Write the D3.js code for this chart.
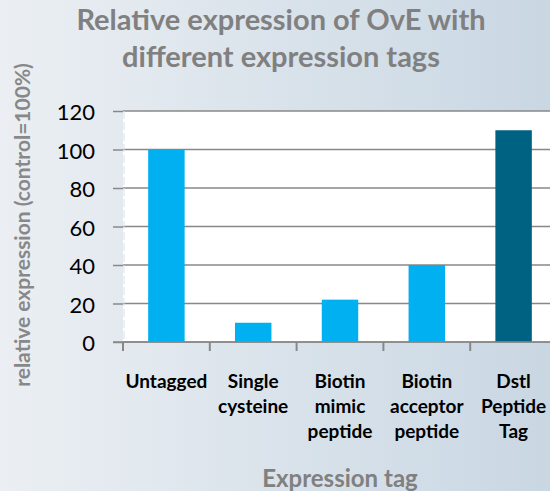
<!DOCTYPE html>
<html>
<head>
<meta charset="utf-8">
<script src="https://cdn.jsdelivr.net/npm/d3@7"></script>
<style>
  body { margin: 0; }
  svg { display: block; }
</style>
</head>
<body>
<div id="chart"></div>
<script>
// chart data
const categories = ['Untagged', 'Single cysteine', 'Biotin mimic peptide', 'Biotin acceptor peptide', 'Dstl Peptide Tag'];
const labelLines = [['Untagged'], ['Single', 'cysteine'], ['Biotin', 'mimic', 'peptide'], ['Biotin', 'acceptor', 'peptide'], ['Dstl', 'Peptide', 'Tag']];
const values = [100, 10, 22, 40, 110];
const yTicks = [0, 20, 40, 60, 80, 100, 120];
const barColors = ['#00b0f0', '#00b0f0', '#00b0f0', '#00b0f0', '#006283'];

const W = 550, H = 491;
const plot = { left: 123, right: 557, top: 111, bottom: 342 };
const font = 'Lato, "Open Sans", sans-serif';

const svg = d3.select('#chart').append('svg')
  .attr('width', W)
  .attr('height', H);

// background gradient
const grad = svg.append('defs').append('linearGradient')
  .attr('id', 'bg')
  .attr('x1', '0').attr('y1', '0').attr('x2', '1').attr('y2', '0');
grad.append('stop').attr('offset', '0').attr('stop-color', '#ebeff3');
grad.append('stop').attr('offset', '1').attr('stop-color', '#c9d7e3');
svg.append('rect').attr('width', W).attr('height', H).attr('fill', 'url(#bg)');

// plot area
svg.append('rect')
  .attr('x', plot.left).attr('y', plot.top)
  .attr('width', plot.right - plot.left).attr('height', plot.bottom - plot.top)
  .attr('fill', '#fff');

const x = d3.scaleBand()
  .domain(categories)
  .range([plot.left, plot.right])
  .paddingInner(0.58)
  .paddingOuter(0.29);

const y = d3.scaleLinear()
  .domain([0, 120])
  .range([plot.bottom, plot.top]);

// gridlines
svg.append('g')
  .selectAll('line')
  .data(yTicks)
  .enter()
  .append('line')
  .attr('x1', plot.left)
  .attr('x2', plot.right)
  .attr('y1', d => y(d))
  .attr('y2', d => y(d))
  .attr('stroke', '#888')
  .attr('stroke-width', 1.3);

// left axis line (faint)
svg.append('line')
  .attr('x1', plot.left + 1).attr('x2', plot.left + 1)
  .attr('y1', plot.top).attr('y2', plot.bottom)
  .attr('stroke', '#d5e1ea')
  .attr('stroke-width', 1)
  .attr('stroke-dasharray', '8,3');

// bars
svg.append('g')
  .selectAll('rect')
  .data(values)
  .enter()
  .append('rect')
  .attr('x', (d, i) => x(categories[i]))
  .attr('y', d => y(d))
  .attr('width', x.bandwidth())
  .attr('height', d => plot.bottom - y(d))
  .attr('fill', (d, i) => barColors[i]);

// y axis
const yAxis = d3.axisLeft(y)
  .tickValues(yTicks)
  .tickSize(10)
  .tickPadding(18)
  .tickFormat(d3.format('d'));
const gy = svg.append('g')
  .attr('transform', 'translate(' + plot.left + ',0)')
  .call(yAxis);
gy.select('.domain').remove();
gy.selectAll('.tick line').attr('stroke', '#888').attr('stroke-width', 1.5);
gy.selectAll('.tick text')
  .attr('fill', '#000')
  .attr('dy', '0.4em')
  .style('font-family', font)
  .style('font-size', '22px');

// x axis line and boundary ticks
const step = x.step();
const boundaries = d3.range(categories.length).map(i => plot.left + i * step);
svg.append('line')
  .attr('x1', plot.left - 10).attr('x2', plot.right)
  .attr('y1', plot.bottom).attr('y2', plot.bottom)
  .attr('stroke', '#888').attr('stroke-width', 1.5);
svg.append('g')
  .selectAll('line')
  .data(boundaries)
  .enter()
  .append('line')
  .attr('x1', d => d).attr('x2', d => d)
  .attr('y1', plot.bottom).attr('y2', plot.bottom + 9)
  .attr('stroke', '#888').attr('stroke-width', 2);

// category labels
const catG = svg.append('g')
  .style('font-family', font)
  .style('font-weight', 'bold')
  .style('font-size', '19px')
  .attr('fill', '#000')
  .attr('text-anchor', 'middle');
labelLines.forEach((lines, i) => {
  const cx = x(categories[i]) + x.bandwidth() / 2;
  const t = catG.append('text').attr('x', cx).attr('y', 388);
  lines.forEach((ln, j) => {
    t.append('tspan').attr('x', cx).attr('dy', j === 0 ? 0 : 25).text(ln);
  });
});

// title
const title = svg.append('text')
  .attr('text-anchor', 'middle')
  .attr('fill', '#808080')
  .style('font-family', font)
  .style('font-weight', 'bold')
  .style('font-size', '29px');
title.append('tspan').attr('x', 281).attr('y', 30).text('Relative expression of OvE with');
title.append('tspan').attr('x', 281).attr('y', 67).text('different expression tags');

// axis titles
svg.append('text')
  .attr('transform', 'translate(30,225) rotate(-90)')
  .attr('text-anchor', 'middle')
  .attr('fill', '#888')
  .style('font-family', font)
  .style('font-weight', 'bold')
  .style('font-size', '21px')
  .text('relative expression  (control=100%)');

svg.append('text')
  .attr('x', 340)
  .attr('y', 487)
  .attr('text-anchor', 'middle')
  .attr('fill', '#808080')
  .style('font-family', font)
  .style('font-weight', 'bold')
  .style('font-size', '24px')
  .text('Expression tag');
</script>
</body>
</html>
